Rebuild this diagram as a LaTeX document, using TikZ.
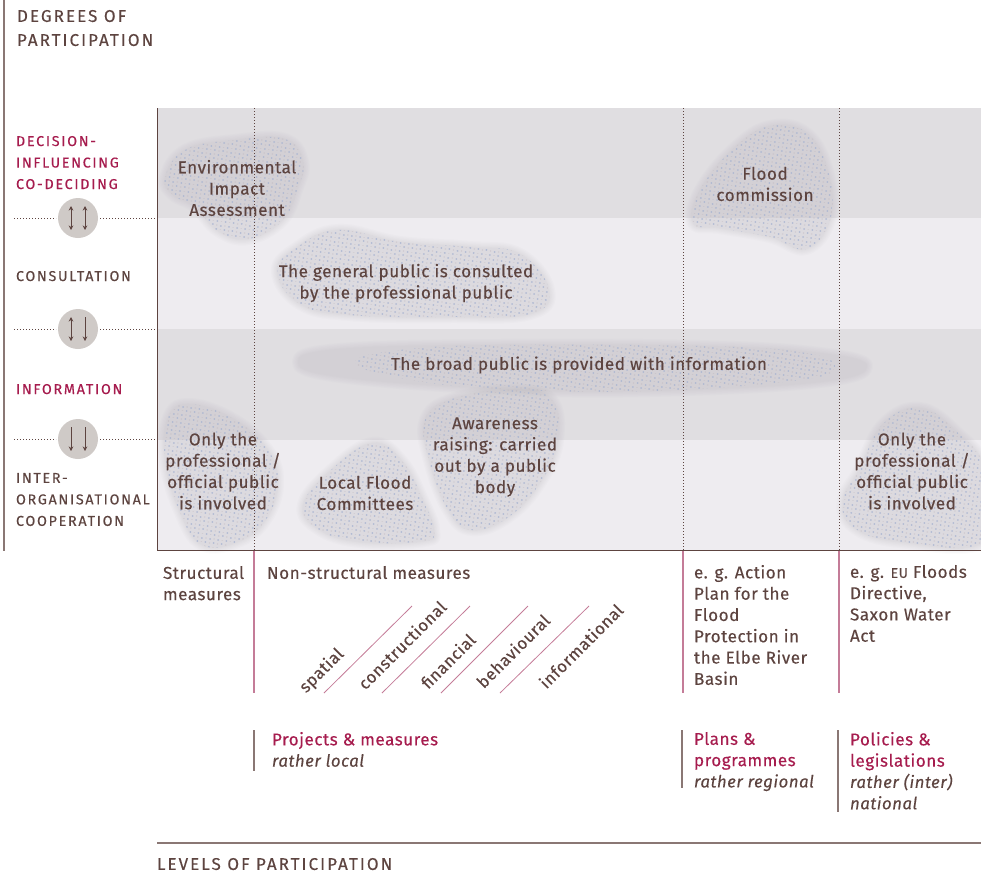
\documentclass[tikz,border=0pt]{standalone}
\usepackage{fontspec}
\setmainfont{Fira Sans}
\newfontfamily\bodyfont[LetterSpace=3,FakeBold=0.3]{Fira Sans}
\newfontfamily\capsfont[LetterSpace=12,FakeBold=0.3]{Fira Sans}
\usetikzlibrary{arrows.meta}
\definecolor{ink}{HTML}{5D4440}
\definecolor{crim}{HTML}{A61C4E}
\definecolor{pinkline}{HTML}{C47C98}
\definecolor{greyline}{HTML}{8A7774}
\definecolor{banddark}{HTML}{E0DEE1}
\definecolor{bandlight}{HTML}{EEECF0}
\definecolor{circ}{HTML}{CFCAC7}
\definecolor{blobc}{HTML}{ABA7AF}
\definecolor{dotblue}{HTML}{A8B4D0}
\definecolor{dotmauve}{HTML}{B8AEB6}
\newcommand{\softblob}[1]{%
  \foreach \w in {12,9.5,7,4.5,2,0.1}{%
    \begin{scope}[transparency group,opacity=0.04]
      \path[fill=blobc,draw=blobc,line width=\w pt,line join=round]
        plot[smooth cycle,tension=0.7] coordinates {#1};
    \end{scope}}}
\newcommand{\halftone}[5]{%
  \begin{scope}
    \clip plot[smooth cycle,tension=0.7] coordinates {#5};
    \pgfmathtruncatemacro{\cmin}{(4.63*#1-3.49*#4)/33.6-1}
    \pgfmathtruncatemacro{\cmax}{(4.63*#3-3.49*#2)/33.6+1}
    \pgfmathtruncatemacro{\rmin}{(-1.14*#3+8.12*#2)/33.6-1}
    \pgfmathtruncatemacro{\rmax}{(-1.14*#1+8.12*#4)/33.6+1}
    \begin{scope}[draw=dotmauve,draw opacity=0.3,line width=1.6pt,line cap=round]
    \foreach \r in {\rmin,...,\rmax}{\foreach \c in {\cmin,...,\cmax}{%
      \draw (\c*8.12+\r*3.49+4.06,\c*1.14+\r*4.63+0.57) -- ++(0.01,0);
    }}
    \end{scope}
    \begin{scope}[draw=dotblue,draw opacity=0.8,line width=2pt,line cap=round]
    \foreach \r in {\rmin,...,\rmax}{\foreach \c in {\cmin,...,\cmax}{%
      \draw (\c*8.12+\r*3.49,\c*1.14+\r*4.63) -- ++(0.01,0);
    }}
    \end{scope}
  \end{scope}}
\tikzset{
  x=1pt,y=-1pt,
  every node/.style={inner sep=0pt,outer sep=0pt,text=ink},
  bodytext/.style={font=\fontsize{17.1}{21.3}\selectfont\bodyfont,align=center},
  lefttext/.style={font=\fontsize{17.1}{21.3}\selectfont\bodyfont,align=left,anchor=north west},
  crimtext/.style={lefttext,text=crim},
  capslab/.style={font=\fontsize{14.3}{21.5}\selectfont\capsfont,align=left,anchor=north west},
  titlelab/.style={font=\fontsize{17}{24}\selectfont\capsfont,align=left,anchor=north west},
  difflab/.style={font=\fontsize{16.8}{16}\selectfont\bodyfont,rotate=45,anchor=center},
  axisline/.style={draw=ink,line width=1pt},
  dotline/.style={draw=ink,line width=0.9pt,dash pattern=on 1pt off 2pt},
  pinkrule/.style={draw=pinkline,line width=1.3pt},
  diagrule/.style={draw=pinkline,line width=0.8pt},
  greyrule/.style={draw=greyline,line width=1.1pt},
  roundel/.style={circle,fill=circ,minimum size=40pt},
  darrow/.style={draw=ink,line width=0.8pt,{Stealth[length=4.5pt,width=4.5pt]}-{Stealth[length=4.5pt,width=4.5pt]}},
  sarrow/.style={draw=ink,line width=0.8pt,-{Stealth[length=4.5pt,width=4.5pt]}},
}
\newcommand{\ital}[1]{\textcolor{ink}{\fontsize{16.8}{21.3}\selectfont\itshape #1}}
\begin{document}
\begin{tikzpicture}
\useasboundingbox (0,0) rectangle (981,875);
% bands
\fill[banddark] (157,108) rectangle (981,218);
\fill[bandlight] (157,218) rectangle (981,329);
\fill[banddark] (157,329) rectangle (981,440);
\fill[bandlight] (157,440) rectangle (981,550);
% blobs
\def\bEIA{(165,178)(185,150)(235,140)(285,139)(303,162)(297,190)(282,221)(248,239)(218,231)(195,207)(173,195)}
\def\bGen{(277,272)(296,248)(338,230)(400,242)(470,247)(520,254)(549,290)(530,314)(450,317)(350,315)(300,304)}
\def\bBroad{(298,362)(340,349)(500,345)(700,346)(820,353)(867,366)(820,382)(650,391)(500,389)(340,377)}
\def\bBroadIn{(355,362)(400,350)(500,345)(700,346)(800,352)(835,366)(800,380)(650,391)(500,389)(400,378)}
\def\bProfL{(188,404)(230,417)(265,446)(278,480)(267,518)(240,541)(202,545)(179,510)(165,460)(168,418)}
\def\bLocal{(372,443)(402,461)(423,500)(434,530)(424,541)(360,542)(318,529)(303,505)(330,471)}
\def\bAware{(425,420)(452,399)(510,390)(551,399)(558,440)(542,480)(510,516)(472,530)(448,510)(429,460)}
\def\bProfR{(843,500)(859,470)(883,424)(920,408)(957,432)(985,470)(985,541)(900,542)(853,527)}
\def\bComm{(770,126)(808,134)(829,175)(830,220)(806,249)(770,237)(720,228)(693,223)(700,190)(733,149)}
\softblob{\bEIA}\softblob{\bGen}\softblob{\bBroad}\softblob{\bProfL}\softblob{\bLocal}\softblob{\bAware}\softblob{\bProfR}\softblob{\bComm}
\halftone{160}{135}{310}{245}{\bEIA}
\halftone{270}{225}{555}{320}{\bGen}
\halftone{350}{342}{840}{395}{\bBroadIn}
\halftone{160}{400}{285}{550}{\bProfL}
\halftone{298}{438}{438}{546}{\bLocal}
\halftone{420}{385}{562}{535}{\bAware}
\halftone{838}{403}{985}{546}{\bProfR}
\halftone{688}{120}{835}{255}{\bComm}
% grid verticals
\foreach \n/\xx in {a/254,b/683,c/839}{
  \coordinate (top\n) at (\xx,108);
  \coordinate (base\n) at (\xx,550);
  \coordinate (foot\n) at (\xx,693);
  \draw[dotline] (top\n) -- (base\n);
  \draw[pinkrule] (base\n) -- (foot\n);
}
% axes
\coordinate (axtop) at (157,108);
\coordinate (axcorner) at (157,550);
\coordinate (axright) at (981,550);
\draw[axisline] (axtop) -- (axcorner) -- (axright);
\coordinate (outertop) at (4,0);
\coordinate (outerbot) at (4,551);
\draw[greyrule] (outertop) -- (outerbot);
\coordinate (lvlL) at (157,843);
\coordinate (lvlR) at (981,843);
\draw[greyrule] (lvlL) -- (lvlR);
% roundels
\foreach \n/\yy in {r1/218,r2/329,r3/439}{
  \node[roundel] (\n) at (78,\yy) {};
  \coordinate (\n w) at (14,\yy);
  \coordinate (\n e) at (157,\yy);
  \draw[dotline,shorten >=2pt] (\n w) -- (\n);
  \draw[dotline,shorten <=2pt] (\n) -- (\n e);
  \coordinate (\n la) at (71,\yy-12);
  \coordinate (\n lb) at (71,\yy+12);
  \coordinate (\n ra) at (85,\yy-12);
  \coordinate (\n rb) at (85,\yy+12);
}
\draw[darrow] (r1la) -- (r1lb);
\draw[darrow] (r1ra) -- (r1rb);
\draw[darrow] (r2la) -- (r2lb);
\draw[sarrow] (r2ra) -- (r2rb);
\draw[sarrow] (r3la) -- (r3lb);
\draw[sarrow] (r3ra) -- (r3rb);
% diagonals
\foreach \n/\xa/\xb in {d1/324/412,d2/382/470,d3/441/528,d4/500/589}{
  \coordinate (\n a) at (\xa,693);
  \coordinate (\n b) at (\xb,606);
  \draw[diagrule] (\n a) -- (\n b);
}
% lower short rules
\coordinate (ga) at (254,730); \coordinate (gb) at (254,771);
\coordinate (pa) at (682,730); \coordinate (pb) at (682,788);
\coordinate (la) at (838,730); \coordinate (lb) at (838,812);
\draw[greyrule] (ga) -- (gb);
\draw[greyrule] (pa) -- (pb);
\draw[greyrule] (la) -- (lb);
% left labels
\node[titlelab] (degrees) at (17,10) {DEGREES OF\\PARTICIPATION};
\node[capslab,text=crim] (decision) at (16,136) {DECISION-\\INFLUENCING\\CO-DECIDING};
\node[capslab] (consult) at (16,271) {CONSULTATION};
\node[capslab,text=crim] (inform) at (16,384) {INFORMATION};
\node[capslab] (inter) at (16,473) {INTER-\\ORGANISATIONAL\\COOPERATION};
% blob text
\node[bodytext] (eia) at (237,188) {Environmental\\Impact\\Assessment};
\node[bodytext] (gen) at (406,283) {The general public is consulted\\by the professional public};
\node[bodytext] (broad) at (579,365) {The broad public is provided with information};
\node[bodytext] (profl) at (223,471) {Only the\\professional /\\official public\\is involved};
\node[bodytext] (local) at (365,493) {Local Flood\\Committees};
\node[bodytext] (aware) at (495,457) {Awareness\\raising: carried\\out by a public\\body};
\node[bodytext] (profr) at (912,471) {Only the\\professional /\\official public\\is involved};
\node[bodytext] (comm) at (765,184) {Flood\\commission};
% below axis
\node[lefttext] (struct) at (163,566) {Structural\\measures};
\node[lefttext] (nonstruct) at (267,566) {Non-structural measures};
\node[difflab] (spatial) at (322,671) {spatial};
\node[difflab] (constr) at (402,645) {constructional};
\node[difflab] (fin) at (448,661) {financial};
\node[difflab] (behav) at (513,651) {behavioural};
\node[difflab] (infm) at (581,646) {informational};
\node[lefttext] (action) at (694,565) {e. g. Action\\Plan for the\\Flood\\Protection in\\the Elbe River\\Basin};
\node[lefttext] (floods) at (850,565) {e. g. {\fontsize{14}{21.3}\selectfont EU} Floods\\Directive,\\Saxon Water\\Act};
\node[crimtext] (proj) at (272,732) {Projects \& measures\\\ital{rather local}};
\node[crimtext] (plans) at (694,732) {Plans \&\\programmes\\\ital{rather regional}};
\node[crimtext] (pol) at (850,732) {Policies \&\\legislations\\\ital{rather (inter)}\\\ital{national}};
\node[titlelab] (levels) at (157,858) {LEVELS OF PARTICIPATION};
\end{tikzpicture}
\end{document}
